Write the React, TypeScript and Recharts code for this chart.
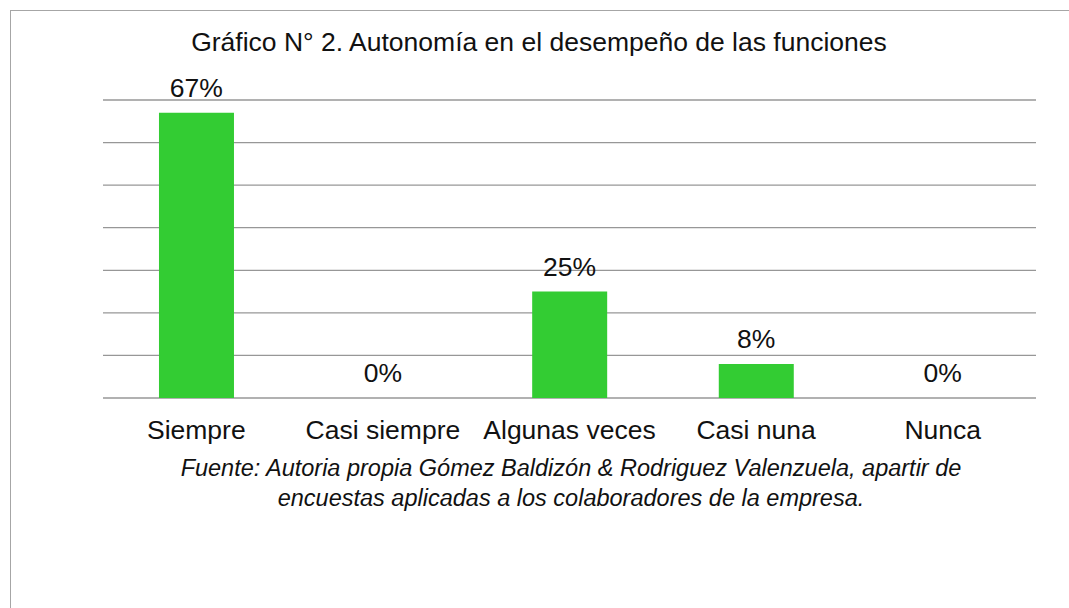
import { ComposedChart, Bar, Line, XAxis, YAxis, CartesianGrid, LabelList } from 'recharts';

const categories = ['Siempre', 'Casi siempre', 'Algunas veces', 'Casi nuna', 'Nunca'];
const percentages = [67, 0, 25, 8, 0];
const yTicks = [0, 10, 20, 30, 40, 50, 60, 70];

const title = 'Gráfico N° 2. Autonomía en el desempeño de las funciones';
const sourceLines = [
  'Fuente: Autoria propia Gómez Baldizón & Rodriguez Valenzuela, apartir de',
  'encuestas aplicadas a los colaboradores de la empresa.',
];

const FONT = '"Liberation Sans", Arial, sans-serif';

const data = categories.map((name, i) => ({ name, value: percentages[i] }));

export default function App() {
  return (
    <div
      style={{
        position: 'fixed', left: 0, top: 0, width: 1069, height: 608,
        overflow: 'hidden', background: '#fff', fontFamily: FONT,
      }}
    >
      <div
        style={{
          position: 'absolute', left: 10, top: 10, width: 1100, height: 640,
          border: '1.5px solid #a6a6a6', boxSizing: 'border-box',
        }}
      />
      <div
        style={{
          position: 'absolute', left: 0, width: 1078, top: 26, textAlign: 'center',
          fontSize: 26.5, lineHeight: '32px', color: '#111',
        }}
      >
        {title}
      </div>
      <div style={{ position: 'absolute', left: 0, top: 0 }}>
        <ComposedChart
          width={1069}
          height={608}
          data={data}
          margin={{ top: 100, right: 33, bottom: 150, left: 103 }}
          barCategoryGap="30%"
        >
          <CartesianGrid vertical={false} stroke="#979797" strokeWidth={1.3} />
          <YAxis hide domain={[0, 70]} ticks={yTicks} />
          <XAxis
            dataKey="name"
            height={60}
            axisLine={false}
            tickLine={false}
            tickSize={0}
            tickMargin={22}
            interval={0}
            tick={{ fontSize: 26.5, fill: '#111', fontFamily: FONT }}
          />
          <Bar dataKey="value" fill="#33cc33" isAnimationActive={false} />
          {/* invisible series, only used to place the value labels (incl. 0%) */}
          <Line
            dataKey="value"
            stroke="none"
            dot={false}
            activeDot={false}
            legendType="none"
            isAnimationActive={false}
          >
            <LabelList
              dataKey="value"
              position="top"
              offset={16}
              formatter={(v: unknown) => `${v}%`}
              style={{ fontSize: 26.5, fill: '#111', fontFamily: FONT }}
            />
          </Line>
        </ComposedChart>
      </div>
      <div
        style={{
          position: 'absolute', left: 0, width: 1142, top: 453, textAlign: 'center',
          fontSize: 23.5, lineHeight: '30px', fontStyle: 'italic', color: '#111',
        }}
      >
        {sourceLines.map(l => <div key={l}>{l}</div>)}
      </div>
    </div>
  );
}
